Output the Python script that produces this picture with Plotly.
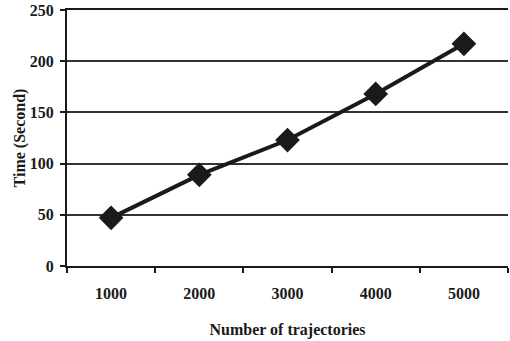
import plotly.graph_objects as go

categories = ["1000", "2000", "3000", "4000", "5000"]
times = [47, 89, 123, 168, 217]
y_ticks = [0, 50, 100, 150, 200, 250]

FONT = dict(family="Liberation Serif, Times New Roman, serif", size=16, color="#1a1a1a")

fig = go.Figure()
fig.add_trace(go.Scatter(
    x=categories, y=times, mode="lines+markers",
    line=dict(color="#1a1a1a", width=4),
    marker=dict(symbol="diamond", size=19, color="#1a1a1a"),
    showlegend=False, cliponaxis=False,
))

fig.update_layout(
    width=510, height=341,
    margin=dict(l=67, r=2, t=10, b=75),
    plot_bgcolor="white", paper_bgcolor="white",
    font=FONT,
)
fig.update_xaxes(
    type="category", tickson="boundaries", automargin=False,
    range=[-0.5, len(categories) - 0.5],
    showline=True, linecolor="#1a1a1a", linewidth=2, mirror=True,
    ticks="outside", ticklen=5, tickwidth=2, tickcolor="#1a1a1a",
    showgrid=False, ticklabelstandoff=12,
    tickfont=dict(family="Liberation Serif", size=16, color="#1a1a1a", weight="bold"),
    title=dict(text="<b>Number of trajectories</b>", standoff=23,
               font=dict(family="Liberation Serif", size=16, color="#1a1a1a")),
)
fig.update_yaxes(
    range=[0, 250], tickvals=y_ticks, automargin=False,
    showline=True, linecolor="#1a1a1a", linewidth=2,
    ticks="outside", ticklen=5, tickwidth=2, tickcolor="#1a1a1a",
    showgrid=True, gridcolor="#333333", gridwidth=1.5,
    zeroline=False, ticklabelstandoff=3,
    tickfont=dict(family="Liberation Serif", size=16, color="#1a1a1a", weight="bold"),
    title=dict(text="<b>Time (Second)</b>", standoff=0,
               font=dict(family="Liberation Serif", size=16, color="#1a1a1a")),
)

fig.write_html("out.html", config={"displayModeBar": False},
               post_script="document.body.style.margin='0';")
